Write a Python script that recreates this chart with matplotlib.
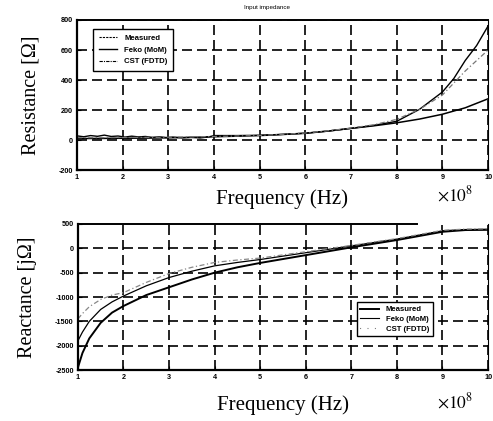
import matplotlib
matplotlib.use("Agg")
import matplotlib.pyplot as plt
from matplotlib.lines import Line2D

# Frequency axis in units of 1e8 Hz
ticks_x = [1, 2, 3, 4, 5, 6, 7, 8, 9, 10]

# --- Input resistance [Ohm] ---
freq_r_meas = [1.0, 1.15, 1.3, 1.45, 1.6, 1.75, 1.9, 2.05, 2.2, 2.35, 2.5, 2.65,
               2.8, 2.95, 3.1, 3.3, 3.5, 3.7, 3.9, 4.0, 4.5, 5.0, 5.5, 6.0,
               6.5, 7.0, 7.5, 8.0, 8.5, 9.0, 9.25, 9.5, 9.75, 10.0]
res_meas = [28, 22, 30, 25, 33, 24, 27, 20, 26, 21, 24, 18,
            22, 17, 20, 15, 18, 14, 22, 30, 30, 32, 38, 46,
            60, 78, 98, 125, 205, 320, 410, 530, 630, 760]
freq_r = [1, 1.5, 2, 2.5, 3, 3.5, 4, 4.5, 5, 5.5, 6, 6.5, 7, 7.5, 8, 8.5, 9, 9.5, 10]
res_feko = [10, 11, 12, 13, 15, 18, 22, 26, 30, 37, 45, 60, 78, 95, 115, 140, 172, 215, 275]
res_cst = [16, 16, 17, 18, 19, 21, 24, 27, 31, 38, 47, 62, 80, 102, 138, 205, 300, 460, 600]
ticks_r = [-200, 0, 200, 400, 600, 800]

# --- Input reactance [jOhm] ---
freq_x = [1, 1.1, 1.25, 1.5, 1.75, 2, 2.5, 3, 3.5, 4, 4.5, 5, 6, 7, 8, 9, 9.5, 10]
react_meas = [-2450, -2150, -1850, -1530, -1320, -1185, -960, -800, -640, -500,
              -390, -300, -140, 20, 170, 340, 375, 380]
react_feko = [-1900, -1720, -1500, -1255, -1100, -980, -770, -600, -470, -360,
              -290, -230, -90, 50, 190, 360, 385, 390]
react_cst = [-1450, -1340, -1200, -1050, -960, -910, -700, -517, -390, -290,
             -240, -200, -70, 60, 200, 370, 395, 400]
ticks_xr = [-2500, -2000, -1500, -1000, -500, 0, 500]

labels = ["Measured", "Feko (MoM)", "CST (FDTD)"]

plt.rcParams["mathtext.fontset"] = "stix"
serif = "Liberation Serif"
tickfont = dict(family="Liberation Sans", size=5.2, weight="bold")
legfont = dict(family="Liberation Sans", size=5.6, weight="bold")

fig = plt.figure(figsize=(4.93, 4.21), dpi=100)
ax1 = fig.add_axes([0.156, 0.596, 0.834, 0.3565])
ax2 = fig.add_axes([0.158, 0.121, 0.832, 0.347])

grid_kw = dict(color="black", linestyle=(0, (6, 3)), linewidth=1.2)


def style_axes(ax, yticks):
    ax.set_xlim(1, 10)
    ax.set_ylim(yticks[0], yticks[-1])
    ax.set_xticks(ticks_x)
    ax.set_yticks(yticks)
    ax.set_xticklabels([str(t) for t in ticks_x], fontdict=tickfont)
    ax.set_yticklabels([str(t) for t in yticks], fontdict=tickfont)
    ax.tick_params(direction="in", length=3, width=0.8, pad=3)
    ax.grid(True, **grid_kw)
    for side in ["left", "bottom"]:
        ax.spines[side].set_linewidth(1.6)
    ax.spines["top"].set_linewidth(1.4)
    ax.spines["right"].set_linewidth(0.8)


# Resistance
style_axes(ax1, ticks_r)
ax1.plot(freq_r_meas, res_meas, color="black", lw=1.0, linestyle="-")
ax1.plot(freq_r, res_feko, color="black", lw=1.1, linestyle="-")
ax1.plot(freq_r, res_cst, color="#777777", lw=0.9, linestyle=(0, (4, 2, 1, 2)))
leg1 = ax1.legend([Line2D([], [], color="black", lw=0.8, linestyle=(0, (2, 1))),
                   Line2D([], [], color="black", lw=1.0),
                   Line2D([], [], color="black", lw=0.8, linestyle=(0, (3, 1, 1, 1)))],
                  labels, loc="upper left", bbox_to_anchor=(0.03, 0.965),
                  prop=legfont, frameon=True, fancybox=False, edgecolor="black",
                  framealpha=1, handlelength=2.4, borderpad=0.7,
                  labelspacing=0.55, handletextpad=0.9)
leg1.get_frame().set_linewidth(1.0)
ax1.set_ylabel("Resistance [\u03a9]", family=serif, fontsize=14.5, labelpad=13)
ax1.set_xlabel("Frequency (Hz)", family=serif, fontsize=15, labelpad=6)
fig.text(267 / 493, 1 - 8 / 421, "Input impedance", family="Liberation Sans",
         fontsize=4.5, ha="center", va="center")

# Reactance
style_axes(ax2, ticks_xr)
ax2.spines["top"].set_visible(False)
ax2.yaxis.get_major_ticks()[-1].gridline.set_visible(False)
ax2.add_line(Line2D([0, 0.827], [1, 1], transform=ax2.transAxes,
                    color="black", lw=1.4, clip_on=False))
ax2.plot(freq_x, react_meas, color="black", lw=1.4, linestyle="-")
ax2.plot(freq_x, react_feko, color="black", lw=0.9, linestyle="-")
ax2.plot(freq_x, react_cst, color="#888888", lw=0.9, linestyle=(0, (4, 2, 1, 2)))
leg2 = ax2.legend([Line2D([], [], color="black", lw=1.4),
                   Line2D([], [], color="black", lw=0.8),
                   Line2D([], [], color="black", lw=0.8, linestyle=(0, (0.5, 6)))],
                  labels, loc="upper left", bbox_to_anchor=(0.67, 0.49),
                  prop=legfont, frameon=True, fancybox=False, edgecolor="black",
                  framealpha=1, handlelength=2.4, borderpad=0.45,
                  labelspacing=0.3, handletextpad=0.9)
leg2.get_frame().set_linewidth(1.0)
ax2.set_ylabel("Reactance [j\u03a9]", family=serif, fontsize=14.5, labelpad=13)
ax2.set_xlabel("Frequency (Hz)", family=serif, fontsize=15, labelpad=10)

# Scale multipliers of the frequency axes
fig.text(0.924, 0.536, r"$\times 10^8$", fontsize=12.5, ha="center", va="center")
fig.text(0.924, 0.044, r"$\times 10^8$", fontsize=12.5, ha="center", va="center")

fig.savefig("out.png", dpi=100)
